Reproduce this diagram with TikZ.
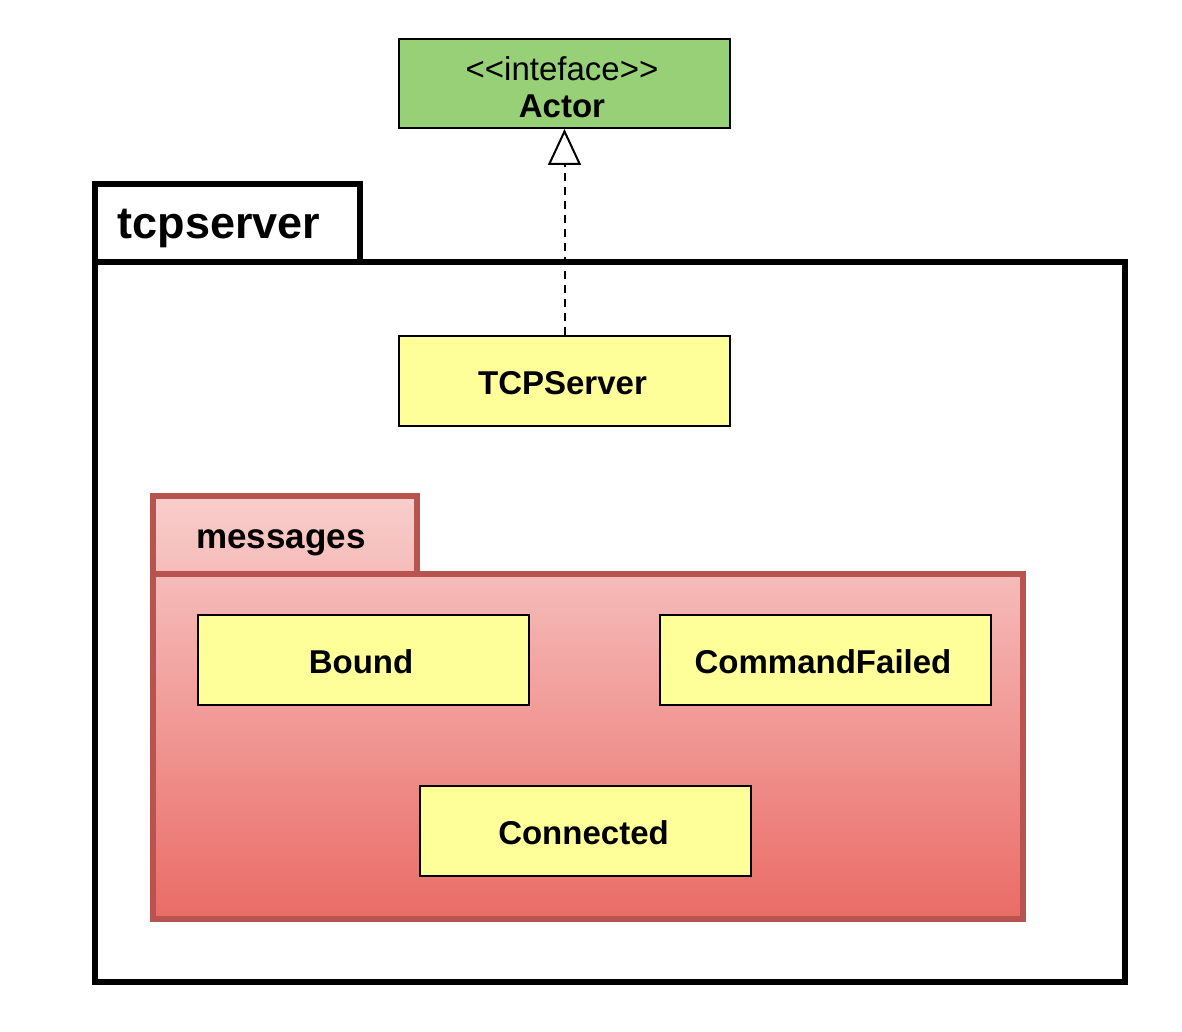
\documentclass[tikz,border=0pt]{standalone}
\usepackage{fontspec}
\setmainfont{Liberation Sans}
\usetikzlibrary{arrows.meta}
\definecolor{ifgreen}{HTML}{97D077}
\definecolor{clsyellow}{HTML}{FFFF99}
\definecolor{pkgborder}{HTML}{B85450}
\definecolor{pkgtop}{HTML}{F8CECC}
\definecolor{pkgbot}{HTML}{EA6B66}
\tikzset{
  clsbox/.style={draw=black, line width=2pt, fill=clsyellow, minimum width=331pt, minimum height=90pt, inner sep=0pt},
  clstext/.style={font=\fontsize{33}{40}\selectfont\bfseries},
  ifbox/.style={draw=black, line width=2pt, fill=ifgreen, minimum width=331pt, minimum height=89pt, inner sep=0pt},
  pkgline/.style={line width=6pt, line join=miter},
  realize/.style={line width=2pt, dash pattern=on 8pt off 6pt, -{Triangle[open, length=36pt, width=33pt, line width=2pt]}}
}
\begin{document}
\begin{tikzpicture}[x=1pt,y=-1pt]
\useasboundingbox (0,0) rectangle (1182,1032);
% outer package tcpserver
\draw[pkgline] (95,184) -- (360,184) -- (360,262) -- (1125,262) -- (1125,982) -- (95,982) -- cycle;
\draw[pkgline] (95,262) -- (360,262);
\node[anchor=west, font=\fontsize{45}{54}\selectfont\bfseries] (tcplabel) at (114,228) {tcpserver};
% inner package messages
\shade[top color=pkgtop, bottom color=pkgbot] (153,496) -- (417,496) -- (417,574) -- (1023,574) -- (1023,919) -- (153,919) -- cycle;
\draw[pkgline, draw=pkgborder] (153,496) -- (417,496) -- (417,574) -- (1023,574) -- (1023,919) -- (153,919) -- cycle;
\draw[pkgline, draw=pkgborder] (153,574) -- (417,574);
\node[font=\fontsize{35}{42}\selectfont\bfseries] (msglabel) at (281,543) {messages};
% interface
\node[ifbox] (actor) at (564.5,83.5) {};
\node[font=\fontsize{33}{40}\selectfont] (stereo) at (562,69) {<{}<inteface>{}>};
\node[font=\fontsize{33}{40}\selectfont\bfseries] (actorname) at (562,106) {Actor};
% classes
\node[clsbox] (tcp) at (564.5,381) {};
\node[clstext] (tcptext) at (562.5,383) {TCPServer};
\node[clsbox] (bound) at (363,660) {};
\node[clstext] (boundtext) at (361,662) {Bound};
\node[clsbox] (failed) at (825.5,660) {};
\node[clstext] (failedtext) at (823,662) {CommandFailed};
\node[clsbox] (connected) at (585.5,831) {};
\node[clstext] (connectedtext) at (583.5,833) {Connected};
% realization
\draw[realize] (tcp.north) -- (actor.south);
\end{tikzpicture}
\end{document}
